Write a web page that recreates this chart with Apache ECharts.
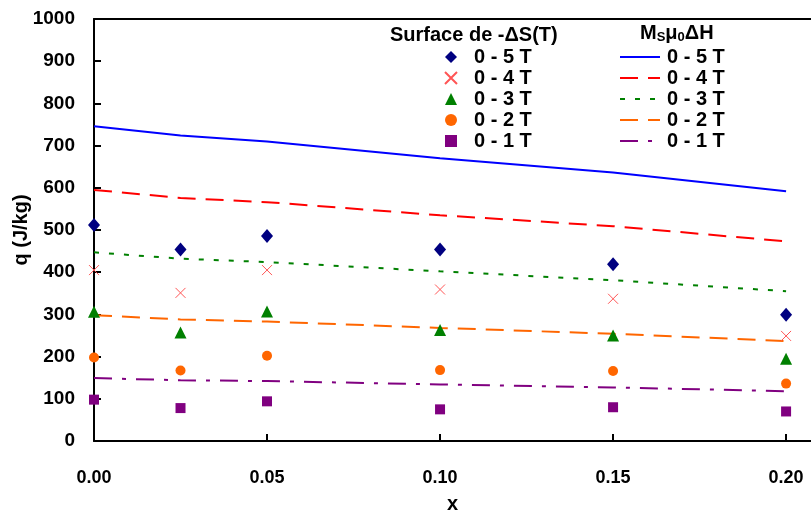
<!DOCTYPE html>
<html>
<head>
<meta charset="utf-8">
<script src="https://cdn.jsdelivr.net/npm/echarts@6/dist/echarts.min.js"></script>
</head>
<body style="margin:0">
<div id="main" style="width:811px;height:514px"></div>
<script>
// x values (composition)
var xs = [0, 0.025, 0.05, 0.10, 0.15, 0.20];
var fields = ['0 - 5 T', '0 - 4 T', '0 - 3 T', '0 - 2 T', '0 - 1 T'];

// q from surface under -dS(T) curve (points)
var surf5 = [512, 454, 486, 454, 419, 299];
var surf4 = [405, 351, 405, 359, 337, 249];
var surf3 = [306, 257, 307, 263, 250, 195];
var surf2 = [198, 167, 202, 168, 166, 136];
var surf1 = [98, 78, 94, 75, 80, 70];

// q = Ms mu0 dH (lines)
var mag5 = [746, 724, 710, 670, 636, 592];
var mag4 = [595, 576, 566, 535, 509, 473];
var mag3 = [447, 432, 424, 402, 381, 355];
var mag2 = [298, 288, 283, 268, 254, 237];
var mag1 = [149, 144, 142, 134, 127, 118];

var yTicks = [0, 100, 200, 300, 400, 500, 600, 700, 800, 900, 1000];
var xTicks = [0, 0.05, 0.10, 0.15, 0.20];

function pts(v) {
    return xs.map(function (x, i) { return [x, v[i]]; });
}

var font = { fontFamily: 'Liberation Sans', fontWeight: 'bold', fontSize: 19, color: '#000' };
var xFont = { fontFamily: 'Liberation Sans', fontWeight: 'bold', fontSize: 18, color: '#000' };
var legFont = { fontFamily: 'Liberation Sans', fontWeight: 'bold', fontSize: 20, color: '#000', lineHeight: 18 };
var cross = 'path://M0,0L10,10M10,0L0,10';

var surfSeries = [
    { key: 's5', data: surf5, symbol: 'diamond', size: [12, 14], color: '#000080' },
    { key: 's4', data: surf4, symbol: cross, size: 10, color: 'transparent', border: '#FF5555' },
    { key: 's3', data: surf3, symbol: 'triangle', size: 12, color: '#008000' },
    { key: 's2', data: surf2, symbol: 'circle', size: 10, color: '#FF6600' },
    { key: 's1', data: surf1, symbol: 'rect', size: 10, color: '#800080' }
];
var magSeries = [
    { key: 'm5', data: mag5, color: '#0000FF', type: 'solid' },
    { key: 'm4', data: mag4, color: '#FF0000', type: [18, 10] },
    { key: 'm3', data: mag3, color: '#008000', type: [5, 10] },
    { key: 'm2', data: mag2, color: '#FF6600', type: [18, 10] },
    { key: 'm1', data: mag1, color: '#800080', type: [18, 10, 4, 10] }
];

var labelOf = {};
var series = [];
magSeries.forEach(function (s, i) {
    labelOf[s.key] = fields[i];
    series.push({
        name: s.key, type: 'line', data: pts(s.data), symbol: 'none',
        lineStyle: { color: s.color, width: 2, type: s.type },
        itemStyle: { color: s.color }, z: 2
    });
});
surfSeries.forEach(function (s, i) {
    labelOf[s.key] = fields[i];
    series.push({
        name: s.key, type: 'scatter', data: pts(s.data), symbol: s.symbol, symbolSize: s.size,
        itemStyle: s.border ? { color: 'transparent', borderColor: s.border, borderWidth: 1, opacity: 1 }
                            : { color: s.color, opacity: 1 },
        z: 3
    });
});

var myChart = echarts.init(document.getElementById('main'));
var option = {
    animation: false,
    grid: { left: 94, right: 0, top: 19, bottom: 73, outerBoundsMode: 'none', containLabel: false },
    xAxis: [{
        type: 'value', min: 0, max: 0.2072, interval: 0.05,
        name: 'x', nameLocation: 'middle', nameGap: 53, nameMoveOverlap: false,
        nameTextStyle: { fontFamily: 'Liberation Sans', fontWeight: 'bold', fontSize: 20, color: '#000' },
        axisLine: { lineStyle: { color: '#000', width: 2 } },
        axisTick: { inside: true, length: 7, lineStyle: { color: '#000', width: 2 }, customValues: xTicks },
        axisLabel: Object.assign({ margin: 28, customValues: xTicks, formatter: function (v) { return v.toFixed(2); } }, xFont),
        splitLine: { show: false }
    }, {
        type: 'value', position: 'top', min: 0, max: 0.2072,
        axisLine: { show: true, lineStyle: { color: '#000', width: 2 } },
        axisTick: { show: false }, axisLabel: { show: false }, splitLine: { show: false }
    }],
    yAxis: {
        type: 'value', min: 0, max: 1000, interval: 100,
        name: 'q (J/kg)', nameLocation: 'middle', nameGap: 63, nameMoveOverlap: false,
        nameTextStyle: { fontFamily: 'Liberation Sans', fontWeight: 'bold', fontSize: 20, color: '#000' },
        axisLine: { show: true, lineStyle: { color: '#000', width: 2 } },
        axisTick: { show: true, inside: true, length: 7, lineStyle: { color: '#000', width: 2 } },
        axisLabel: Object.assign({ margin: 19, customValues: yTicks, formatter: function (v) { return String(v); } }, font),
        splitLine: { show: false }
    },
    legend: [{
        orient: 'vertical', left: 439, top: 42, itemWidth: 12, itemHeight: 12, itemGap: 1,
        data: ['s5', 's4', 's3', 's2', 's1'],
        formatter: function (n) { return labelOf[n]; },
        textStyle: Object.assign({ padding: [0, 0, 0, 12] }, legFont), selectedMode: false
    }, {
        orient: 'vertical', left: 614, top: 42, itemWidth: 40, itemHeight: 12, itemGap: 1,
        data: ['m5', 'm4', 'm3', 'm2', 'm1'],
        formatter: function (n) { return labelOf[n]; },
        itemStyle: { color: 'transparent', borderColor: 'transparent', borderWidth: 0 },
        textStyle: Object.assign({ padding: [0, 0, 0, 2] }, legFont), selectedMode: false
    }],
    graphic: [{
        type: 'text', left: 390, top: 25,
        style: { text: 'Surface de -ΔS(T)', font: 'bold 20px "Liberation Sans"', fill: '#000' }
    }, {
        type: 'text', left: 640, top: 23,
        style: {
            text: 'M{s|S}μ{s|0}ΔH',
            font: 'bold 20px "Liberation Sans"', fill: '#000',
            rich: { s: { fontSize: 13, fontWeight: 'bold', fontFamily: 'Liberation Sans', verticalAlign: 'bottom', padding: [9, 0, 0, 0] } }
        }
    }],
    series: series
};
myChart.setOption(option);
</script>
</body>
</html>
